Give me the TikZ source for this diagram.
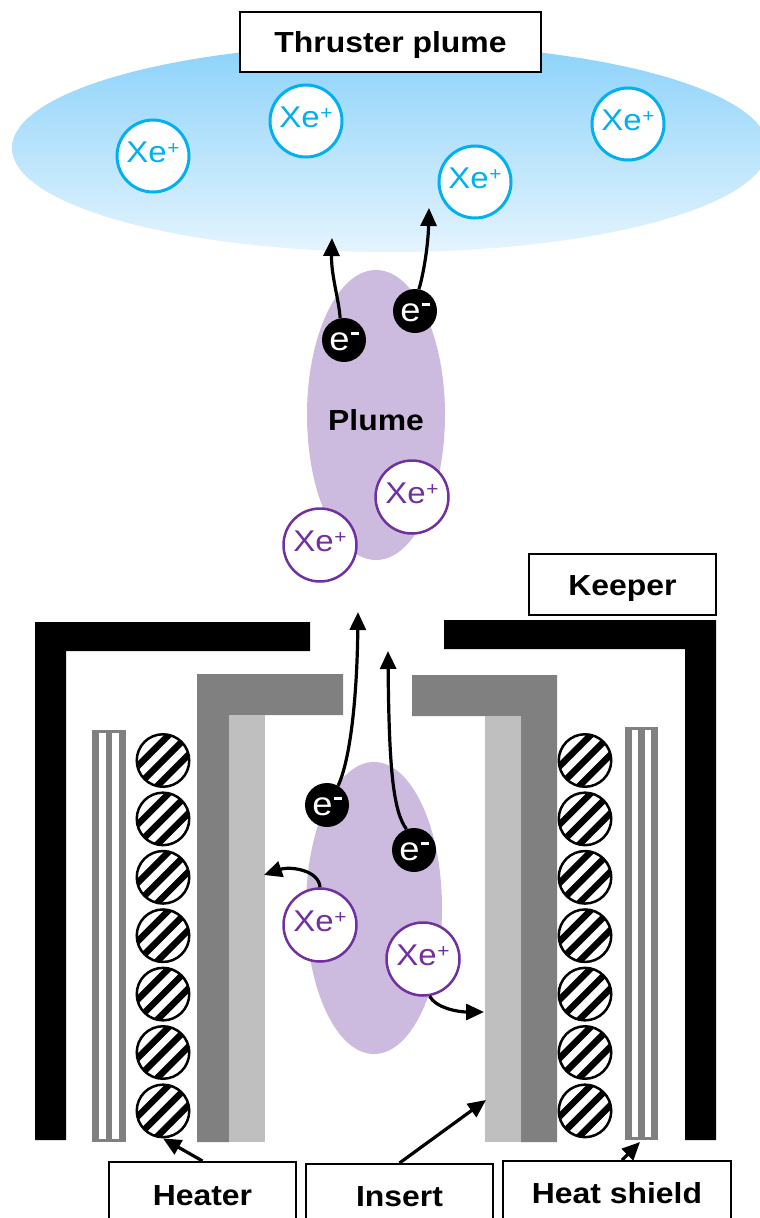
\documentclass[tikz,border=0pt]{standalone}
\usepackage{fontspec}
\setmainfont{Liberation Sans}[FakeStretch=1.1]
\usetikzlibrary{arrows.meta,calc}

\definecolor{ionblue}{RGB}{0,176,240}
\definecolor{ionpurple}{RGB}{112,48,160}
\definecolor{plumepurple}{RGB}{204,187,222}
\definecolor{exhausttop}{RGB}{140,210,250}
\definecolor{exhaustbot}{RGB}{228,244,254}
\definecolor{tubegrey}{RGB}{128,128,128}
\definecolor{insertgrey}{RGB}{191,191,191}

% charge marks set beside the symbol
\newcommand{\ionplus}{\kern0.5pt\raisebox{8pt}{\fontsize{19}{19}\selectfont +}}
\newcommand{\elminus}{\kern1.5pt\rule[15pt]{7.5pt}{2.6pt}}

\begin{document}
\begin{tikzpicture}[x=1pt,y=-1pt,
  ionB/.style={circle, draw=ionblue, line width=3pt, fill=white, text=ionblue,
    minimum size=72pt, inner sep=0pt, font=\fontsize{30}{32}\selectfont,
    text height=21pt, text depth=8pt},
  ionP/.style={ionB, draw=ionpurple, text=ionpurple, line width=2.5pt, minimum size=73pt},
  elec/.style={circle, fill=black, text=white, minimum size=44pt, inner sep=0pt,
    font=\fontsize{33}{35}\selectfont, text height=20pt, text depth=0pt},
  tag/.style={draw, line width=2pt, fill=white, inner sep=0pt,
    font=\bfseries\fontsize{29}{31}\selectfont, text height=21pt, text depth=0pt},
  arr/.style={line width=3.2pt, -{Triangle[length=18pt,width=16pt]}},
  coil/.style={circle, draw, line width=2.5pt, fill=white, minimum size=52.5pt, inner sep=0pt,
    path picture={
      \foreach \o in {-14,0,14}{
        \draw[line width=6.5pt]
          ([shift={(0.707*\o-28.3, 0.707*\o+28.3)}]path picture bounding box.center) --
          ([shift={(0.707*\o+28.3, 0.707*\o-28.3)}]path picture bounding box.center);
      }}},
]
\useasboundingbox (0,0) rectangle (760,1218);
\clip (0,0) rectangle (760,1218);

% thruster exhaust
\shade[top color=exhausttop, bottom color=exhaustbot] (390,148) ellipse (378 and 104);
\node[tag, minimum width=301pt, minimum height=60pt] (tp) at (390.5,42) {Thruster plume};
\node[ionB] (b1) at (153,156) {Xe\ionplus};
\node[ionB] (b2) at (306,121) {Xe\ionplus};
\node[ionB] (b3) at (475,182) {Xe\ionplus};
\node[ionB] (b4) at (628,124) {Xe\ionplus};

% cathode plume
\fill[plumepurple] (376,415) ellipse (69 and 145);
\node[inner sep=0pt, font=\bfseries\fontsize{29}{31}\selectfont, text height=21pt, text depth=0pt]
  (pl) at (376,420) {Plume};
\node[elec] (eU1) at (344,340) {e\elminus};
\node[elec] (eU2) at (415,311) {e\elminus};
\node[ionP] (iU1) at (412,497) {Xe\ionplus};
\node[ionP] (iU2) at (320,545) {Xe\ionplus};

% keeper electrode
\fill[black] (35,622) -- (310,622) -- (310,651) -- (66,651) -- (66,1140) -- (35,1140) -- cycle;
\fill[black] (444,620) -- (716,620) -- (716,1140) -- (685,1140) -- (685,649) -- (444,649) -- cycle;
\node[tag, minimum width=187pt, minimum height=61pt] (keeper) at (622.5,584.5) {Keeper};

% cathode tube and insert
\fill[tubegrey] (197,674) -- (343,674) -- (343,715) -- (229,715) -- (229,1142) -- (197,1142) -- cycle;
\fill[insertgrey] (229,715) rectangle (265,1142);
\fill[tubegrey] (412,675) -- (557,675) -- (557,1142) -- (521,1142) -- (521,716) -- (412,716) -- cycle;
\fill[insertgrey] (485,716) rectangle (521,1142);

% heat shields
\fill[tubegrey] (92,730) rectangle (126,1142);
\fill[white] (98.8,733) rectangle (105.6,1139);
\fill[white] (112.4,733) rectangle (119.2,1139);
\fill[tubegrey] (625,727) rectangle (658,1140);
\fill[white] (631.6,730) rectangle (638.2,1137);
\fill[white] (644.8,730) rectangle (651.4,1137);

% heater coils
\foreach \k in {0,...,6}{
  \node[coil] (hl\k) at (163,760.5+58.4*\k) {};
  \node[coil] (hr\k) at (585,760.5+58.4*\k) {};
}

% internal plasma
\fill[plumepurple] (374,908) ellipse (68 and 146);
\node[elec] (eL1) at (327,805) {e\elminus};
\node[elec] (eL2) at (414,850) {e\elminus};
\node[ionP] (iL1) at (320,925) {Xe\ionplus};
\node[ionP] (iL2) at (423,959) {Xe\ionplus};

% part labels
\node[tag, minimum width=187pt, minimum height=66pt] (heater) at (202.5,1195) {Heater};
\node[tag, minimum width=187pt, minimum height=64pt] (insert) at (399.5,1196) {Insert};
\node[tag, minimum width=228pt, minimum height=64pt] (hshield) at (617,1193) {Heat shield};

% arrow ends
\coordinate (tU1) at (332,238);
\coordinate (tU2) at (429,208);
\coordinate (tL1) at (358,612);
\coordinate (tL2) at (388,651);
\coordinate (tI1) at (264,875);
\coordinate (tI2) at (484,1012);
\coordinate (tIns) at (486,1100);
\coordinate (tHs) at (640,1142);

% particle paths
\draw[arr] (eU1.100) .. controls (339,300) and (331,275) .. (tU1);
\draw[arr] (eU2.80) .. controls (422,280) and (428,250) .. (tU2);
\draw[arr] (eL1.60) .. controls (350,760) and (357,700) .. (tL1);
\draw[arr] (eL2.110) .. controls (394,812) and (389,775) .. (tL2);
\draw[arr] (iL1.north) .. controls (319,870) and (290,866) .. (tI1);
\draw[arr] (iL2.-80) .. controls (436,1008) and (458,1012) .. (tI2);

% label pointers
\draw[arr] (heater.north) -- (hl6.south);
\draw[arr] (insert.north) -- (tIns);
\draw[arr] ([xshift=5pt]hshield.north) -- (tHs);
\end{tikzpicture}
\end{document}
